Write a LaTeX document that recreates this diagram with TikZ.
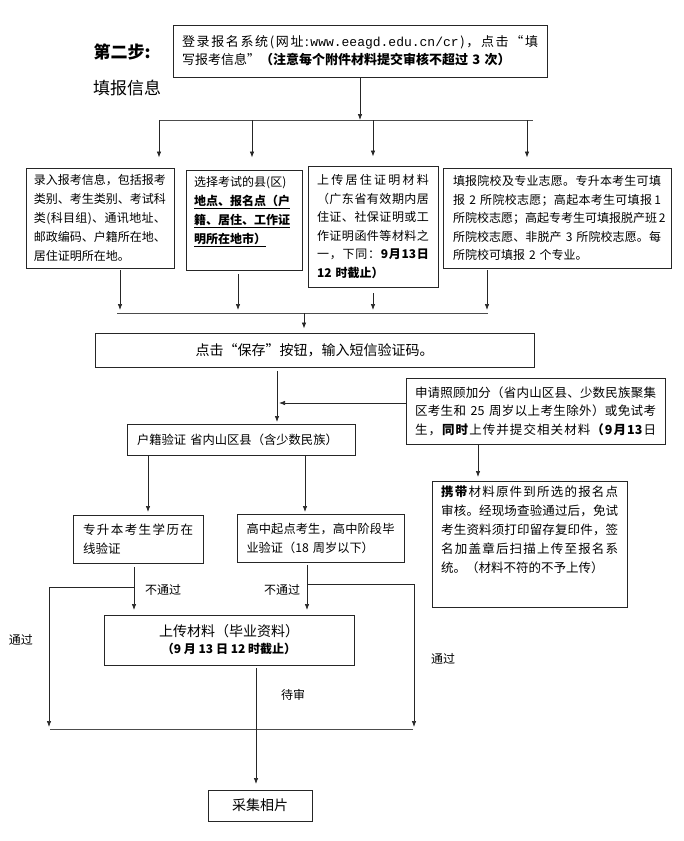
\documentclass[tikz,border=0pt]{standalone}
\usepackage{fontspec}
\setmainfont{Noto Sans CJK SC}
\setmonofont{Liberation Mono}
\usetikzlibrary{arrows.meta}
\setlength\parindent{0pt}
\makeatletter
\newcommand\jline[1]{\leavevmode\hbox to \hsize{\@tfor\myjc:=#1\do{\myjc\hfil}\unskip}}
\makeatother
\begin{document}
\begin{tikzpicture}[x=1pt,y=-1pt,
  box/.style={draw=black!85, line width=0.9pt, inner sep=0pt, align=left},
  txt/.style={inner sep=0pt, align=left},
  arr/.style={draw=black!85, -{Latex[length=6pt,width=4.5pt]}, line width=0.7pt},
  ln/.style={draw=black!70, line width=0.8pt},
  lab/.style={font=\fontsize{12}{14}\selectfont, inner sep=0pt}]
\useasboundingbox (0,0) rectangle (683,841);

% titles
\node[font=\fontsize{17}{20}\selectfont\bfseries, inner sep=0pt] (step) at (122,52) {第二步:};
\node[font=\fontsize{17}{20}\selectfont, inner sep=0pt] (fill) at (127,88) {填报信息};

% top box
\node[box, minimum width=374, minimum height=52, text width=356, font=\fontsize{13}{18}\selectfont] (top) at (360,51)
 {\jline{登录报名系统(网址:{\texttt{www.eeagd.edu.cn/cr}})，点击“填}\\写报考信息”{\bfseries（注意每个附件材料提交审核不超过 3 次）}};

% four boxes
\node[box, minimum width=148, minimum height=100, text width=132, font=\fontsize{12}{18.8}\selectfont] (b1) at (100,218)
 {\jline{录入报考信息，包括报考}\\\jline{类别、考生类别、考试科}\\\jline{类(科目组)、通讯地址、}\\\jline{邮政编码、户籍所在地、}\\居住证明所在地。};

\node[box, minimum width=116, minimum height=100] (b2) at (244,220) {};
\node[txt, anchor=north west, text width=102, font=\fontsize{12}{19}\selectfont] (b2t) at (194,176)
 {选择考试的县(区)\\\underline{\bfseries 地点、报名点（户}\\\underline{\bfseries 籍、居住、工作证}\\\underline{\bfseries 明所在地市）}};

\node[box, minimum width=130, minimum height=121, text width=112, font=\fontsize{12}{18.5}\selectfont] (b3) at (373,226.5)
 {\jline{上传居住证明材料}\\\jline{（广东省有效期内居}\\\jline{住证、社保证明或工}\\\jline{作证明函件等材料之}\\\jline{一，下同：{\textbf{9}}{\textbf{月}}{\textbf{13}}{\textbf{日}}}\\{\bfseries 12 时截止）}};

\node[box, minimum width=228, minimum height=100, text width=208, font=\fontsize{12}{18.5}\selectfont] (b4) at (557,218)
 {\jline{填报院校及专业志愿。专升本考生可填}\\\jline{报{\ 2\ }所院校志愿；高起本考生可填报{\,1}}\\\jline{所院校志愿；高起专考生可填报脱产班{\,2}}\\\jline{所院校志愿、非脱产{\ 3\ }所院校志愿。每}\\所院校可填报 2 个专业。};

% save
\node[box, minimum width=439, minimum height=34, align=center, font=\fontsize{14}{16}\selectfont] (save) at (314.5,350) {点击“保存”按钮，输入短信验证码。};

% hukou
\node[box, minimum width=228, minimum height=31, text width=208, font=\fontsize{12.3}{14}\selectfont] (hk) at (241,439.5) {户籍验证 省内山区县（含少数民族）};

% side boxes
\node[box, minimum width=259, minimum height=66, text width=241, font=\fontsize{12.5}{18.5}\selectfont] (s1) at (535.5,411)
 {\jline{申请照顾加分（省内山区县、少数民族聚集}\\\jline{区考生和{\ 25\ }周岁以上考生除外）或免试考}\\\jline{生，{\textbf{同}}{\textbf{时}}上传并提交相关材料{\textbf{（}}{\textbf{9}}{\textbf{月}}{\textbf{13}}日}};

\node[box, minimum width=195, minimum height=126] (s2) at (529.5,544) {};
\node[txt, anchor=north west, text width=177, font=\fontsize{12.5}{19}\selectfont] (s2t) at (441,486)
 {\jline{{\textbf{携}}{\textbf{带}}材料原件到所选的报名点}\\\jline{审核。经现场查验通过后，免试}\\\jline{考生资料须打印留存复印件，签}\\\jline{名加盖章后扫描上传至报名系}\\统。（材料不符的不予上传）};

% verification boxes
\node[box, minimum width=130, minimum height=48, text width=110, font=\fontsize{12.5}{19}\selectfont] (zsb) at (138,539)
 {\jline{专升本考生学历在}\\线验证};
\node[box, minimum width=167, minimum height=48, text width=148, font=\fontsize{12.2}{19}\selectfont] (gz) at (320.5,538)
 {\jline{高中起点考生，高中阶段毕}\\业验证（18 周岁以下）};

% upload
\node[box, minimum width=250, minimum height=50, align=center, font=\fontsize{14}{17}\selectfont] (up) at (229,640)
 {上传材料（毕业资料）\\{\fontsize{12}{15}\selectfont\bfseries （9 月 13 日 12 时截止）}};

% photo
\node[box, minimum width=104, minimum height=31, font=\fontsize{14}{16}\selectfont] (ph) at (260,805.5) {采集相片};

% ---- connectors ----
\coordinate (h1l) at (159,120);
\coordinate (h1r) at (533,120);
\coordinate (h1b) at (252,120);
\coordinate (h1c) at (373,120);
\coordinate (h1d) at (527,120);
\draw[arr] (top.south) -- (top.south |- h1l);
\draw[ln] (h1l) -- (h1r);
\draw[arr, shorten >=10pt] (h1l) -- (h1l |- b1.north);
\draw[arr, shorten >=12pt] (h1b) -- (h1b |- b2.north);
\draw[arr, shorten >=9pt] (h1c) -- (h1c |- b3.north);
\draw[arr, shorten >=10pt] (h1d) -- (h1d |- b4.north);

\coordinate (h2l) at (117,313);
\coordinate (h2r) at (488,313);
\coordinate (d1) at (120,310);
\coordinate (d2) at (238,310);
\coordinate (d3) at (373,310);
\coordinate (d4) at (487,310);
\coordinate (h2m) at (304,313);
\draw[ln] (h2l) -- (h2r);
\draw[arr, shorten <=2pt] (b1.south -| d1) -- (d1);
\draw[arr, shorten <=4pt] (b2.south -| d2) -- (d2);
\draw[arr, shorten <=6pt] (b3.south -| d3) -- (d3);
\draw[arr, shorten <=2pt] (b4.south -| d4) -- (d4);
\draw[arr, shorten >=4pt] (h2m) -- (h2m |- save.north);

\coordinate (c1) at (277,422);
\coordinate (c1t) at (279,403);
\draw[arr, shorten <=4pt] (save.south -| c1) -- (c1);
\draw[arr] (s1.west |- c1t) -- (c1t);

\coordinate (zsbA) at (148,512);
\coordinate (gzA) at (305,512);
\coordinate (s2A) at (478,477);
\draw[arr] (hk.south -| zsbA) -- (zsbA);
\draw[arr] (hk.south -| gzA) -- (gzA);
\draw[arr] (s1.south -| s2A) -- (s2A);

\coordinate (zA) at (134,610);
\coordinate (zb) at (134,587);
\coordinate (lb) at (49,727);
\coordinate (gA) at (307,610);
\coordinate (gb) at (307,584);
\coordinate (rb) at (414,727);
\draw[arr, shorten <=4pt] (zsb.south -| zA) -- (zA);
\draw[arr] (zb) -| (lb);
\draw[arr, shorten <=3pt] (gz.south -| gA) -- (gA);
\draw[arr] (gb) -| (rb);

\coordinate (bl) at (50,729);
\coordinate (br) at (413,729);
\draw[ln] (bl) -- (br);

\coordinate (pA) at (256,784);
\draw[arr, shorten <=3pt] (up.south -| pA) -- (pA);

% labels
\node[lab] (l1) at (163,590) {不通过};
\node[lab] (l2) at (282,590) {不通过};
\node[lab] (l3) at (21,640) {通过};
\node[lab] (l4) at (443,659) {通过};
\node[lab] (l5) at (293,695) {待审};
\end{tikzpicture}
\end{document}
